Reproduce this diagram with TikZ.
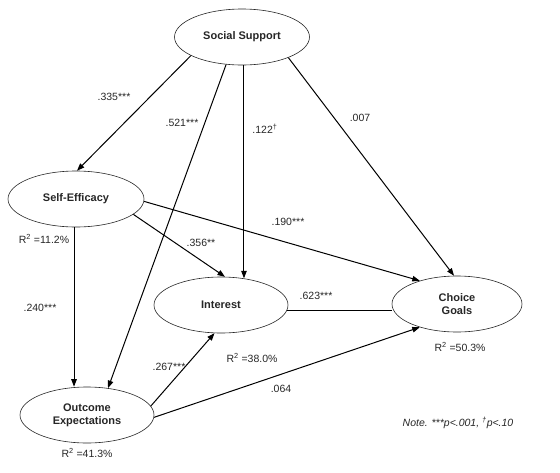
\documentclass[tikz,border=0pt]{standalone}
\usepackage{fontspec}
\setmainfont{Liberation Sans}
\usetikzlibrary{arrows.meta,shapes.geometric}
\begin{document}
\begin{tikzpicture}[x=1pt,y=-1pt,
  var/.style={draw=black!85, line width=0.6pt, ellipse, inner sep=0pt,
    minimum height=56pt, align=center, text=black!85, font=\fontsize{11}{13}\selectfont\bfseries},
  path/.style={line width=1pt, -{Triangle[length=7.5pt,width=5.5pt]}},
  plain/.style={line width=1pt},
  lbl/.style={font=\fontsize{10.5}{12}\selectfont, inner sep=0pt, text=black!85}]
\useasboundingbox (0,0) rectangle (560,472);
\node[var, minimum width=135pt] (ss) at (242,37) {Social Support};
\node[var, minimum width=136pt] (se) at (76,199) {Self-Efficacy};
\node[var, minimum width=134pt] (int) at (221,305) {Interest};
\node[var, minimum width=130pt] (cg) at (457,304) {Choice\\Goals};
\node[var, minimum width=134pt] (oe) at (87,415) {Outcome\\Expectations};

\draw[path] (ss.200) -- (se.88);
\draw[path] (ss.240) -- (oe.52);
\draw[path] (ss.274) -- (ss.274 |- int.50);
\draw[path] (ss.336) -- (cg.96);
\draw[path] (se.345) -- (int.82);
\draw[path] (se.358) -- (cg.148);
\draw[path] (se.266) -- (se.266 |- oe.north);
\draw[path] (oe.8) -- (int.257);
\draw[path] (oe.358) -- (cg.212);
\draw[plain] (int.-5) -- (int.-5 -| cg.west);

\node[lbl] (l1) at (114,97) {.335***};
\node[lbl] (l2) at (182,123) {.521***};
\node[lbl] (l3) at (265,129) {.122\textsuperscript{\textdagger}};
\node[lbl] (l4) at (360,118) {.007};
\node[lbl] (l5) at (288,222) {.190***};
\node[lbl] (l6) at (201,243) {.356**};
\node[lbl] (r1) at (44,239) {R\textsuperscript{2} =11.2\%};
\node[lbl] (l7) at (40,308) {.240***};
\node[lbl] (l8) at (316,296) {.623***};
\node[lbl] (r2) at (252,358) {R\textsuperscript{2} =38.0\%};
\node[lbl] (l9) at (169,367) {.267***};
\node[lbl] (l10) at (281,389) {.064};
\node[lbl] (r3) at (460,347) {R\textsuperscript{2} =50.3\%};
\node[lbl] (r4) at (87,453) {R\textsuperscript{2} =41.3\%};
\node[lbl] (note) at (458,423) {\itshape Note. ***p<.001, \textsuperscript{\textdagger}p<.10};
\end{tikzpicture}
\end{document}
